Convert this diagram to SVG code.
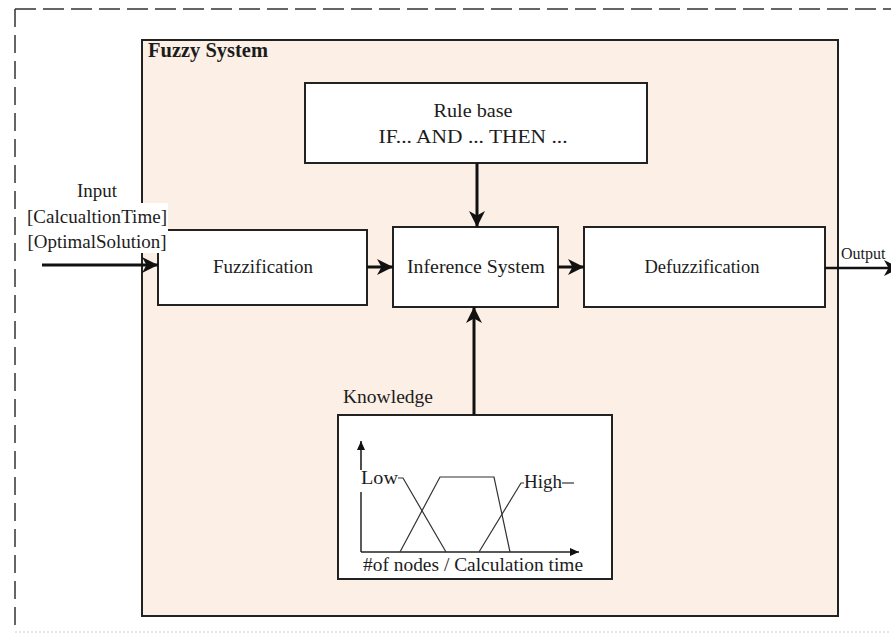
<svg xmlns="http://www.w3.org/2000/svg" width="891" height="636" viewBox="0 0 891 636">
  <style>
    text { font-family: "Liberation Serif", "Times New Roman", serif; font-size: 19px; fill: #1c1c1c; }
    .bold { font-weight: bold; font-size: 20px; }
    .mid { text-anchor: middle; }
    .box { fill: #ffffff; stroke: #222222; stroke-width: 2; }
    .flow { stroke: #111111; stroke-width: 3; fill: none; marker-end: url(#head); }
    .thin { stroke: #333333; stroke-width: 1.2; fill: none; }
    .axis { stroke: #222222; stroke-width: 1.6; fill: none; marker-end: url(#small); }
  </style>
  <defs>
    <marker id="head" markerUnits="userSpaceOnUse" markerWidth="16" markerHeight="16" refX="16" refY="8" orient="auto">
      <path d="M0,0 L16,8 L0,16 L4.5,8 z" fill="#111111"/>
    </marker>
    <marker id="small" markerUnits="userSpaceOnUse" markerWidth="9" markerHeight="8" refX="9" refY="4" orient="auto">
      <path d="M0,0 L9,4 L0,8 z" fill="#111111"/>
    </marker>
  </defs>

  <!-- outer dashed frame -->
  <g id="frame">
    <line x1="15" y1="9" x2="891" y2="9" stroke="#333333" stroke-width="1.5" stroke-dasharray="21 7"/>
    <line x1="15" y1="9" x2="15" y2="630" stroke="#333333" stroke-width="1.5" stroke-dasharray="18 8"/>
    <line x1="15" y1="632" x2="891" y2="632" stroke="#dddddd" stroke-width="1.5" stroke-dasharray="2 2"/>
  </g>

  <!-- Fuzzy System container -->
  <g id="fuzzy-system">
    <rect x="142" y="40" width="696" height="576" fill="#fcefe5" stroke="#222222" stroke-width="2"/>
    <text class="bold" x="148" y="57" textLength="120" lengthAdjust="spacingAndGlyphs">Fuzzy System</text>
  </g>

  <g id="rule-base">
    <rect class="box" x="305" y="83" width="342" height="80"/>
    <text class="mid" x="473" y="117" textLength="79" lengthAdjust="spacingAndGlyphs">Rule base</text>
    <text class="mid" x="473" y="143" textLength="189" lengthAdjust="spacingAndGlyphs">IF... AND ... THEN ...</text>
  </g>

  <g id="fuzzification">
    <rect class="box" x="158" y="230" width="209" height="75"/>
    <text class="mid" x="263" y="273" textLength="100" lengthAdjust="spacingAndGlyphs">Fuzzification</text>
  </g>

  <g id="inference-system">
    <rect class="box" x="393" y="227" width="165" height="80"/>
    <text class="mid" x="476" y="273" textLength="138" lengthAdjust="spacingAndGlyphs">Inference System</text>
  </g>

  <g id="defuzzification">
    <rect class="box" x="584" y="227" width="241" height="80"/>
    <text class="mid" x="702" y="273" textLength="115" lengthAdjust="spacingAndGlyphs">Defuzzification</text>
  </g>

  <!-- input label sits on a white text box -->
  <g id="input">
    <rect x="22" y="203" width="146" height="50" fill="#ffffff"/>
    <text class="mid" x="97" y="197" textLength="40" lengthAdjust="spacingAndGlyphs">Input</text>
    <text class="mid" x="97" y="223" textLength="140" lengthAdjust="spacingAndGlyphs">[CalcualtionTime]</text>
    <text class="mid" x="97" y="248" textLength="139" lengthAdjust="spacingAndGlyphs">[OptimalSolution]</text>
  </g>

  <g id="output">
    <rect x="839" y="41" width="52" height="560" fill="#ffffff"/>
    <line x1="838" y1="41" x2="838" y2="615" stroke="#222222" stroke-width="2"/>
    <text x="841" y="259" style="font-size:16px">Output</text>
  </g>

  <g id="knowledge">
    <text x="343" y="403" textLength="90" lengthAdjust="spacingAndGlyphs">Knowledge</text>
    <rect class="box" x="338" y="415" width="274" height="164"/>
    <!-- membership function chart -->
    <line class="thin" x1="361" y1="552" x2="361" y2="492" style="stroke-width:1.6"/>
    <line class="axis" x1="361" y1="470" x2="361" y2="441"/>
    <line class="axis" x1="361" y1="552" x2="579" y2="552"/>
    <text x="361" y="484" textLength="37" lengthAdjust="spacingAndGlyphs">Low</text>
    <polyline class="thin" points="398,478 403,478 446,552"/>
    <polyline class="thin" points="400,552 440,477 494,477 510,552"/>
    <polyline class="thin" points="479,552 521,483 524,483"/>
    <text x="524" y="488" textLength="38" lengthAdjust="spacingAndGlyphs">High</text>
    <line class="thin" x1="562" y1="483" x2="574" y2="483"/>
    <text x="363" y="571" textLength="220" lengthAdjust="spacingAndGlyphs">#of nodes / Calculation time</text>
  </g>

  <g id="connectors">
    <line class="flow" x1="477" y1="163" x2="477" y2="227"/>
    <line class="flow" x1="474" y1="415" x2="474" y2="307"/>
    <line class="flow" x1="367" y1="267" x2="393" y2="267"/>
    <line class="flow" x1="558" y1="267" x2="584" y2="267"/>
    <line class="flow" x1="42" y1="265" x2="158" y2="265"/>
    <line class="flow" x1="825" y1="268" x2="900" y2="268" style="stroke-width:2.5"/>
  </g>
</svg>
